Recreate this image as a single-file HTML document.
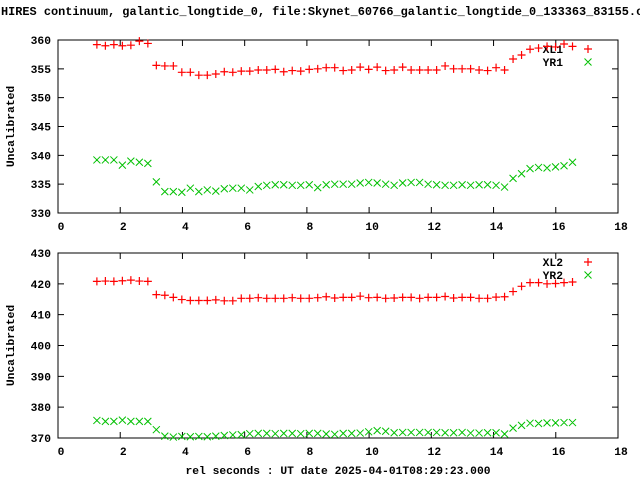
<!DOCTYPE html>
<html><head><meta charset="utf-8"><style>
html,body{margin:0;padding:0;background:#fff;overflow:hidden;}
svg{display:block;font-family:"Liberation Mono",monospace;font-weight:bold;font-size:11.3px;}
</style></head><body>
<svg id="chart" width="640" height="480" viewBox="0 0 640 480" xmlns="http://www.w3.org/2000/svg">
<text x="1" y="15" style="font-size:11.9px">HIRES continuum, galantic_longtide_0, file:Skynet_60766_galantic_longtide_0_133363_83155.cyb</text>
<g id="p1"></g>
<g id="p2"></g>
<text x="338" y="474" text-anchor="middle">rel seconds : UT date 2025-04-01T08:29:23.000</text>
</svg>
<script>
const xTicks=[0,2,4,6,8,10,12,14,16,18];
const yTicks1=[330,335,340,345,350,355,360];
const yTicks2=[370,380,390,400,410,420,430];
const xStart=1.25, xStep=0.273;
const XL1=[359.2,359.0,359.2,359.0,359.1,359.8,359.4,355.6,355.5,355.5,354.4,354.4,353.9,353.9,354.1,
354.5,354.4,354.6,354.6,354.8,354.8,354.9,354.5,354.7,354.6,354.9,355.0,355.2,355.2,354.7,354.8,355.3,354.9,355.3,354.7,
354.8,355.3,354.8,354.8,354.8,354.8,355.5,355.0,355.0,355.0,354.8,354.7,355.2,354.8,
356.7,357.4,358.4,358.6,358.9,358.8,359.3,358.9];
const YR1=[339.2,339.2,339.2,338.3,339.0,338.8,338.6,335.4,333.7,333.7,333.6,334.3,333.7,334.0,333.8,334.2,334.3,334.3,334.0,
334.6,334.8,334.9,334.9,334.8,334.8,334.9,334.4,334.9,335.0,
335.0,335.0,335.2,335.3,335.2,335.0,334.8,335.2,335.3,335.3,335.0,334.9,
334.8,334.8,334.9,334.8,334.9,334.9,334.8,334.5,336.0,336.8,337.7,337.9,337.8,338.0,338.2,338.8];
const XL2=[420.8,420.9,420.8,421.0,421.2,420.9,420.8,416.5,416.3,415.6,414.9,414.6,414.6,414.6,414.8,414.5,414.5,
415.3,415.3,415.5,415.3,415.3,415.3,415.5,415.3,415.3,415.5,415.8,415.4,415.6,415.6,416.0,415.5,415.6,415.3,415.4,415.6,
415.6,415.3,415.6,415.6,415.9,415.4,415.6,415.6,415.3,415.3,415.7,415.8,
417.5,419.2,420.4,420.4,420.0,420.1,420.4,420.6];
const YR2=[375.7,375.4,375.4,375.8,375.4,375.4,375.4,372.7,
370.6,370.3,370.5,370.4,370.5,370.4,370.6,370.8,371.0,371.1,371.4,371.5,371.5,371.4,371.5,371.5,371.4,371.5,371.5,371.3,
371.2,371.5,371.5,371.6,372.0,372.4,372.2,371.7,371.8,371.8,371.8,371.8,371.8,371.7,371.7,371.8,371.6,371.6,371.7,371.7,371.3,
373.2,374.1,374.8,374.7,374.9,374.9,375.0,375.0];

const NS="http://www.w3.org/2000/svg";
const L=58,R=618;
function xs(v){return L+(v-0)/(18-0)*(R-L);}
function mk(tag,attrs,parent){const e=document.createElementNS(NS,tag);for(const k in attrs)e.setAttribute(k,attrs[k]);parent.appendChild(e);return e;}

function panel(g,top,bot,ymin,ymax,yt,s1,s2,n1,n2){
  const ys=v=>bot-(v-ymin)/(ymax-ymin)*(bot-top);
  const fr=mk('rect',{x:L,y:top,width:R-L,height:bot-top,fill:'none',stroke:'#000','stroke-width':1},g);
  
  
  xTicks.forEach(t=>{
    const x=xs(t);
    const a=mk('path',{d:`M${x},${bot}v-6M${x},${top}v6`,stroke:'#000','stroke-width':1},g);
    
    
    const tx=mk('text',{x:x+3,y:bot+17,'text-anchor':'middle'},g);
    tx.textContent=t;
    
    
  });
  yt.forEach(t=>{
    const y=ys(t);
    const a=mk('path',{d:`M${L},${y}h6M${R},${y}h-6`,stroke:'#000','stroke-width':1},g);
    
    
    const tx=mk('text',{x:51,y:y+4,'text-anchor':'end'},g);
    tx.textContent=t;
    
    
  });
  const yl=mk('text',{x:14,y:(top+bot)/2,'text-anchor':'middle',transform:`rotate(-90 14 ${(top+bot)/2})`},g);
  yl.textContent='Uncalibrated';
  
  
  let d1='',d2='';
  s1.forEach((v,i)=>{const x=xs(xStart+xStep*i),y=ys(v);d1+=`M${x-4},${y}h8M${x},${y-4}v8`;});
  s2.forEach((v,i)=>{const x=xs(xStart+xStep*i),y=ys(v);d2+=`M${x-3.5},${y-3.5}l7,7M${x-3.5},${y+3.5}l7,-7`;});
  const lt=top+13;
  const t1=mk('text',{x:563,y:lt,'text-anchor':'end'},g);
  t1.textContent=n1;
  
  
  const t2=mk('text',{x:563,y:lt+13,'text-anchor':'end'},g);
  t2.textContent=n2;
  
  
  d1+=`M584,${lt-4}h8M588,${lt-8}v8`;
  d2+=`M584.5,${lt+5.5}l7,7M584.5,${lt+12.5}l7,-7`;
  const p1=mk('path',{d:d1,stroke:'#ff0000','stroke-width':1.2,fill:'none'},g);
  
  
  const p2=mk('path',{d:d2,stroke:'#00c000','stroke-width':1,fill:'none'},g);
  
  
}
panel(document.getElementById('p1'),40,213,330,360,yTicks1,XL1,YR1,'XL1','YR1');
panel(document.getElementById('p2'),253,438,370,430,yTicks2,XL2,YR2,'XL2','YR2');
</script>
</body></html>
